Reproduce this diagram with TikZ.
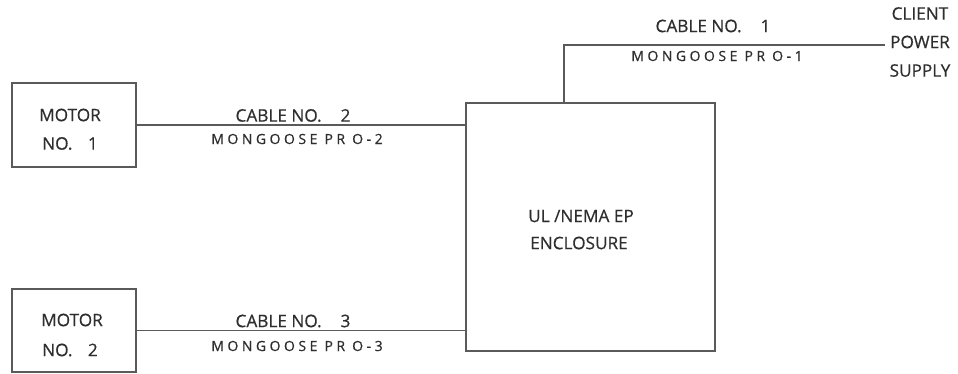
\documentclass[tikz,border=0pt]{standalone}
\usepackage{fontspec}
\setmainfont{Open Sans}[FakeBold=0.6]
\newfontfamily\spaced[LetterSpace=25,FakeBold=0.6]{Open Sans}
\begin{document}
\begin{tikzpicture}[x=1pt,y=-1pt,
  box/.style={draw=linegray,line width=1.4pt,inner sep=0pt},
  wire/.style={draw=linegray,line width=1.4pt},
  lbl/.style={text=textgray,font=\fontsize{17.2}{28.5}\selectfont,inner sep=0pt,align=center},
  sublbl/.style={text=textgray,font=\spaced\fontsize{14}{16}\selectfont,inner sep=0pt},
]
\definecolor{linegray}{HTML}{5A5A5A}
\definecolor{textgray}{HTML}{2E2E2E}
\useasboundingbox (0,0) rectangle (958,373);
% boxes
\node[box,minimum width=124pt,minimum height=84pt] (m1) at (74,125) {};
\node[box,minimum width=124pt,minimum height=83pt] (m2) at (74,330.5) {};
\node[box,minimum width=249pt,minimum height=248pt] (enc) at (590.5,227) {};
% texts inside
\node[lbl] (m1a) at (70,115) {MOTOR};
\node[lbl] (m1b) at (70,143.5) {NO.\hspace{0.9em}1};
\node[lbl] (m2a) at (72,320) {MOTOR};
\node[lbl] (m2b) at (70,350) {NO.\hspace{0.9em}2};
\node[lbl] (enca) at (581,216) {UL /NEMA EP};
\node[lbl] (encb) at (579,243) {ENCLOSURE};
\node[lbl,inner sep=4pt] (client) at (920,42) {CLIENT\\POWER\\SUPPLY};
% wires
\coordinate (t1) at ([xshift=-26.5pt]enc.north);
\draw[wire] (m1.east) -- (enc.west |- m1.east);
\draw[wire] (m2.east) -- (enc.west |- m2.east);
\draw[wire] (t1) |- ([yshift=-3pt]client.west);
% cable labels
\node[lbl] (c1a) at (713,26) {CABLE NO.\hspace{1.1em}1};
\node[sublbl] (c1b) at (717,56) {MONGOOSE PR O-1};
\node[lbl] (c2a) at (293,115.5) {CABLE NO.\hspace{1.1em}2};
\node[sublbl] (c2b) at (297,139) {MONGOOSE PR O-2};
\node[lbl] (c3a) at (293,321) {CABLE NO.\hspace{1.1em}3};
\node[sublbl] (c3b) at (297,346) {MONGOOSE PR O-3};
\end{tikzpicture}
\end{document}
